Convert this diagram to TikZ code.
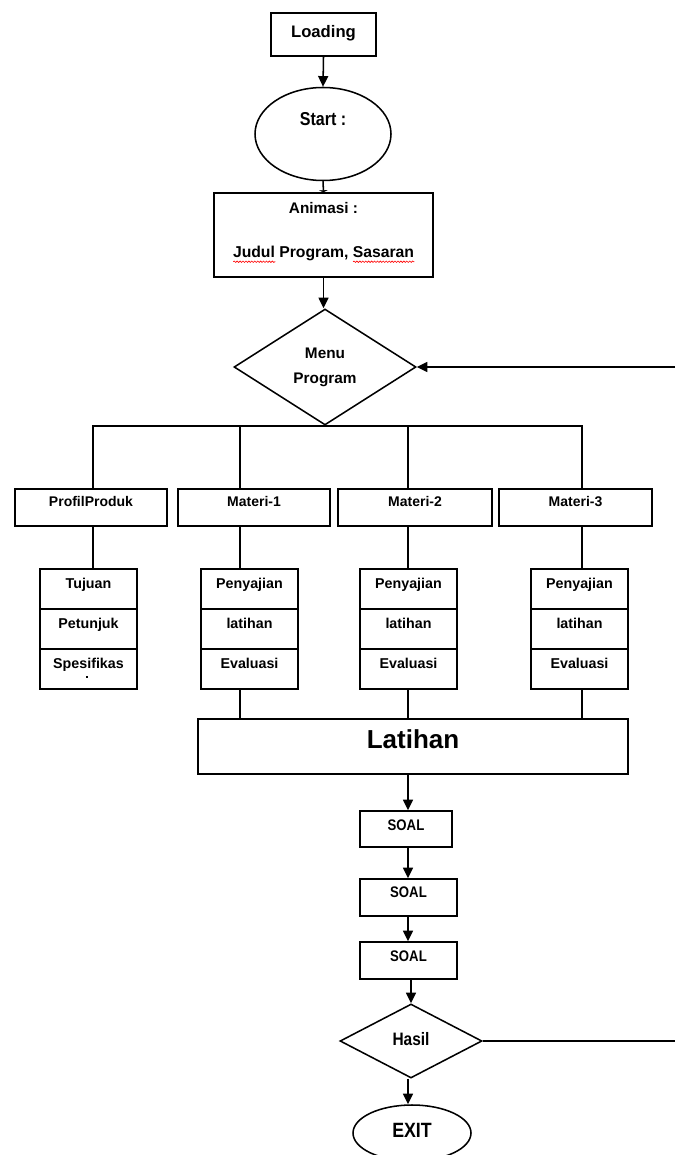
\documentclass[tikz,border=0pt]{standalone}
\usepackage{fontspec}
\setmainfont{Liberation Sans}
\newfontfamily\narfont{Liberation Sans}[FakeStretch=0.86]
\usetikzlibrary{shapes.geometric,arrows.meta,decorations.pathmorphing}
\newsavebox\sqbox
\newcommand\squig[1]{\sbox\sqbox{#1}\rlap{\tikz[baseline=0pt]\draw[red,line width=0.45pt,decorate,decoration={snake,amplitude=0.55pt,segment length=2.2pt}] (0pt,-2.8pt) -- (\wd\sqbox,-2.8pt);}\usebox\sqbox}
\begin{document}
\begin{tikzpicture}[x=0.75pt,y=-0.75pt,line width=1.15pt,
  box/.style={draw,rectangle,inner sep=0pt},
  ell/.style={draw,ellipse,inner sep=0pt},
  dia/.style={draw,diamond,inner sep=0pt},
  txt/.style={anchor=base,inner sep=0pt},
  fr/.style={font=\bfseries\fontsize{#1}{#1}\selectfont},
  fn/.style={font=\narfont\bfseries\fontsize{#1}{#1}\selectfont},
  arr/.style={-{Triangle[width=7.5pt,length=8pt]}},
  tee/.style={-{Triangle[width=6.5pt,length=1.5pt]}}]
\useasboundingbox (0,0) rectangle (675,1155);

% shapes
\node[box,minimum width=78.75pt,minimum height=32.25pt] (load) at (323.5,34.5) {};
\node[ell,minimum width=102pt,minimum height=69.75pt] (start) at (323,134) {};
\node[box,minimum width=164.25pt,minimum height=63pt] (anim) at (323.5,235) {};
\node[dia,minimum width=136.5pt,minimum height=87pt] (menu) at (325,367) {};

\node[box,minimum width=114pt,minimum height=27.75pt] (prof) at (91,507.5) {};
\node[box,minimum width=114pt,minimum height=27.75pt] (m1) at (254,507.5) {};
\node[box,minimum width=115.5pt,minimum height=27.75pt] (m2) at (415,507.5) {};
\node[box,minimum width=114.75pt,minimum height=27.75pt] (m3) at (575.5,507.5) {};

\foreach \n/\x in {sp/88.5,sa/249.5,sb/408.5,sc/579.5}{
  \node[box,minimum width=72.75pt,minimum height=30pt] (\n1) at (\x,589) {};
  \node[box,minimum width=72.75pt,minimum height=30pt] (\n2) at (\x,629) {};
  \node[box,minimum width=72.75pt,minimum height=30pt] (\n3) at (\x,669) {};
}

\node[box,minimum width=322.5pt,minimum height=41.25pt] (lat) at (413,746.5) {};
\node[box,minimum width=69pt,minimum height=27pt] (soal1) at (406,829) {};
\node[box,minimum width=72.75pt,minimum height=27.75pt] (soal2) at (408.5,897.5) {};
\node[box,minimum width=72.75pt,minimum height=27.75pt] (soal3) at (408.5,960.5) {};
\node[dia,minimum width=106.5pt,minimum height=55.5pt] (hasil) at (411,1041) {};
\node[ell,minimum width=88.5pt,minimum height=42pt] (exit) at (412,1133) {};

% texts
\node[txt,fr=12.5,yshift=-1.9pt] (loadT) at (load.center) {Loading};
\node[txt,fn=14,yshift=6.2pt] (startT) at (start.center) {Start :};
\node[txt,fr=11.5,yshift=15.75pt] (animT1) at (anim.center) {Animasi :};
\node[txt,fr=11.8,yshift=-17.25pt] (animT2) at (anim.center) {\squig{Judul} Program, \squig{Sasaran}};
\node[txt,fr=11.5,yshift=6.75pt] (menuT1) at (menu.center) {Menu};
\node[txt,fr=11.5,yshift=-12pt] (menuT2) at (menu.center) {Program};

\node[txt,fr=10.5,yshift=1.1pt] (profT) at (prof.center) {ProfilProduk};
\node[txt,fr=10.5,yshift=1.1pt] (m1T) at (m1.center) {Materi-1};
\node[txt,fr=10.5,yshift=1.1pt] (m2T) at (m2.center) {Materi-2};
\node[txt,fr=10.5,yshift=1.1pt] (m3T) at (m3.center) {Materi-3};

\node[txt,fr=10.7,yshift=0.75pt] (sp1T) at (sp1.center) {Tujuan};
\node[txt,fr=10.7,yshift=0.75pt] (sp2T) at (sp2.center) {Petunjuk};
\node[txt,fr=10.7,yshift=0.75pt] (sp3T) at (sp3.center) {Spesifikas};
\fill (86,676) rectangle (87.5,677.5);
\foreach \n in {sa,sb,sc}{
  \node[txt,fr=10.7,yshift=0.75pt] (\n1T) at (\n1.center) {Penyajian};
  \node[txt,fr=10.7,yshift=0.75pt] (\n2T) at (\n2.center) {latihan};
  \node[txt,fr=10.7,yshift=0.75pt] (\n3T) at (\n3.center) {Evaluasi};
}

\node[txt,fr=19.5,yshift=-1.3pt] (latT) at (lat.center) {Latihan};
\node[txt,fn=11.5,yshift=-0.75pt] (soal1T) at (soal1.center) {SOAL};
\node[txt,fn=11.5] (soal2T) at (soal2.center) {SOAL};
\node[txt,fn=11.5,yshift=-1.1pt] (soal3T) at (soal3.center) {SOAL};
\node[txt,fn=13.5,yshift=-3pt] (hasilT) at (hasil.center) {Hasil};
\node[txt,fn=15.5,yshift=-3pt] (exitT) at (exit.center) {EXIT};

% columns and free ends
\coordinate (col0) at (93,0);
\coordinate (col1) at (240,0);
\coordinate (col2) at (408,0);
\coordinate (col3) at (582,0);
\coordinate (bus) at (menu.south);
\coordinate (rin) at (675,367);
\coordinate (rout) at (675,1041);

% connectors
\draw[arr] (load.south) -- (start.north);
\draw[tee] (start.south) -- (anim.north);
\draw[arr] (anim.south) -- (anim.south |- menu.north);
\draw[arr] (rin) -- (menu.east);

\draw (col0 |- prof.north) |- (bus) -| (col3 |- m3.north);
\draw (col1 |- m1.north) -- (col1 |- bus);
\draw (col2 |- m2.north) -- (col2 |- bus);

\draw (col0 |- prof.south) -- (col0 |- sp1.north);
\draw (col1 |- m1.south) -- (col1 |- sa1.north);
\draw (col2 |- m2.south) -- (col2 |- sb1.north);
\draw (col3 |- m3.south) -- (col3 |- sc1.north);

\draw (col1 |- sa3.south) -- (col1 |- lat.north);
\draw (col2 |- sb3.south) -- (col2 |- lat.north);
\draw (col3 |- sc3.south) -- (col3 |- lat.north);

\draw[arr] (col2 |- lat.south) -- (col2 |- soal1.north);
\draw[arr] (col2 |- soal1.south) -- (col2 |- soal2.north);
\draw[arr] (col2 |- soal2.south) -- (col2 |- soal3.north);
\draw[arr] (hasil.north |- soal3.south) -- (hasil.north);
\draw[arr] (col2 |- hasil.south) -- (col2 |- exit.north);
\draw (hasil.east) -- (rout);
\end{tikzpicture}
\end{document}
